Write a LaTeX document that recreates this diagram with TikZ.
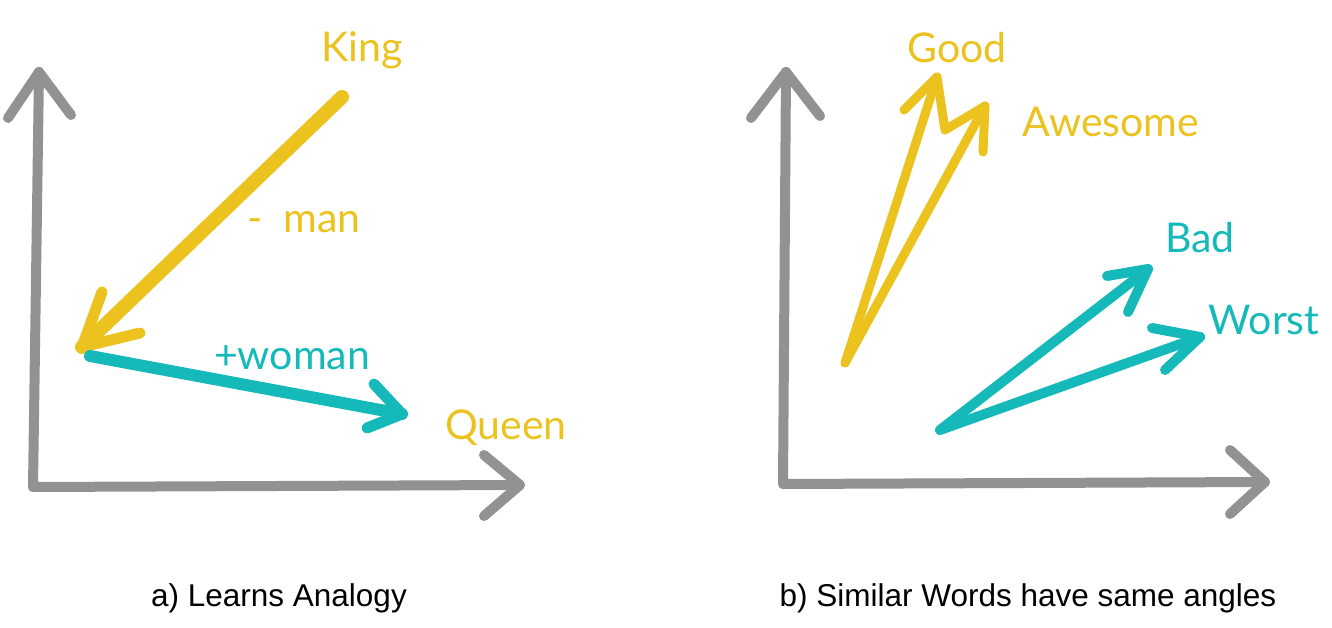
\documentclass[tikz,border=0pt]{standalone}
\usepackage{fontspec}
\setmainfont{Liberation Sans}
\newfontfamily\handfont{Lato}
\definecolor{axisgray}{HTML}{929292}
\definecolor{kyellow}{HTML}{ECC21F}
\definecolor{kteal}{HTML}{15B9BA}
\begin{document}
\begin{tikzpicture}[x=1pt,y=-1pt,
  axisline/.style={draw=axisgray,line width=10pt,line cap=round,line join=round},
  yvec/.style={draw=kyellow,line cap=round,line join=round},
  tvec/.style={draw=kteal,line cap=round,line join=round},
  ylab/.style={text=kyellow,font=\handfont\fontsize{41}{45}\selectfont,inner sep=0pt},
  tlab/.style={text=kteal,font=\handfont\fontsize{41}{45}\selectfont,inner sep=0pt},
  caption/.style={font=\fontsize{31.5}{34}\selectfont,inner sep=0pt}]
\useasboundingbox (0,0) rectangle (1332,628);
% ---------- panel a ----------
\coordinate (aO) at (33,487);
\coordinate (aY) at (39,72);
\coordinate (aX) at (520,485);
\draw[axisline] (aO) -- (aY);
\draw[axisline] (8,118) -- (aY) -- (71,115);
\draw[axisline] (aO) -- (aX);
\draw[axisline] (484,455) -- (aX) -- (484,516);
\coordinate (king) at (342,97);
\coordinate (mid) at (82,347);
\coordinate (queen) at (402,414);
\draw[yvec,line width=14pt] (king) -- (mid);
\draw[yvec,line width=11pt] (102,292) -- (mid) -- (140,333);
\draw[tvec,line width=12pt] (90,356) -- (queen);
\draw[tvec,line width=11pt] (374,384) -- (queen) -- (367,428);
\node[ylab] (kinglab) at (362,50) {King};
\node[ylab] (manlab) at (304,222) {-\enspace man};
\node[tlab] (womanlab) at (292,358) {+woman};
\node[ylab] (queenlab) at (506,428) {Queen};
\node[caption] (capa) at (279,598) {a) Learns Analogy};
% ---------- panel b ----------
\coordinate (bO) at (783,484);
\coordinate (bY) at (786,72);
\coordinate (bX) at (1265,482);
\draw[axisline] (bO) -- (bY);
\draw[axisline] (751,118) -- (bY) -- (820,116);
\draw[axisline] (bO) -- (bX);
\draw[axisline] (1230,450) -- (bX) -- (1230,514);
\coordinate (gs) at (845,363);
\coordinate (good) at (937,77);
\coordinate (awe) at (985,106);
\coordinate (zig) at (945,130);
\draw[yvec,line width=9pt] (gs) -- (good);
\draw[yvec,line width=9pt] (gs) -- (awe);
\draw[yvec,line width=9pt] (904,110) -- (good) -- (zig) -- (awe) -- (983,152);
\coordinate (bs) at (940,430);
\coordinate (bad) at (1148,269);
\coordinate (worst) at (1200,337);
\draw[tvec,line width=10pt] (bs) -- (bad);
\draw[tvec,line width=10pt] (bs) -- (worst);
\draw[tvec,line width=10pt] (1107,276) -- (bad) -- (1128,312);
\draw[tvec,line width=10pt] (1152,328) -- (worst) -- (1165,370);
\node[ylab] (goodlab) at (957,48) {Good};
\node[ylab] (awelab) at (1111,122) {Awesome};
\node[tlab] (badlab) at (1200,238) {Bad};
\node[tlab] (worstlab) at (1264,320) {Worst};
\node[caption] (capb) at (1028,598) {b) Similar Words have same angles};
\end{tikzpicture}
\end{document}
